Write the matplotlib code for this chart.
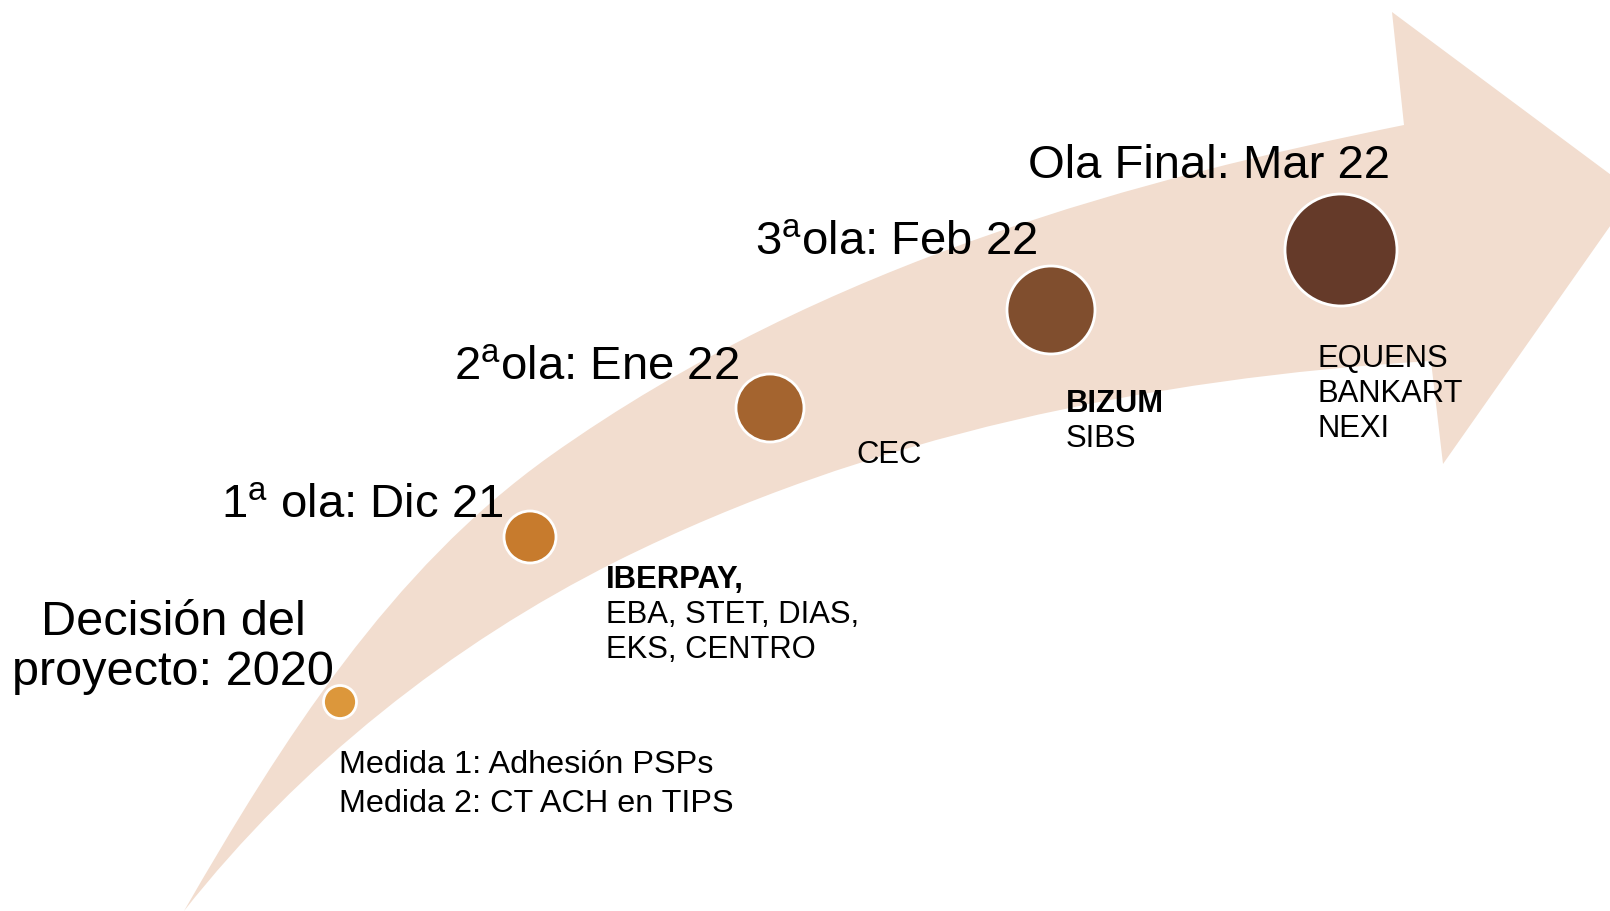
import matplotlib
matplotlib.use("Agg")
import matplotlib.pyplot as plt
from matplotlib.path import Path
from matplotlib.patches import PathPatch, Circle

plt.rcParams['font.family'] = ['Liberation Sans', 'DejaVu Sans']
plt.rcParams['mathtext.fontset'] = 'custom'
plt.rcParams['mathtext.rm'] = 'Liberation Sans'

# --- content ---
wave_titles = [
    ["Decisión del", "proyecto: 2020"],
    [r"1$^{\mathrm{a}}$ ola: Dic 21"],
    [r"2$^{\mathrm{a}}$ola: Ene 22"],
    [r"3$^{\mathrm{a}}$ola: Feb 22"],
    ["Ola Final: Mar 22"],
]
members = [
    ["Medida 1: Adhesión PSPs", "Medida 2: CT ACH en TIPS"],
    ["IBERPAY,", "EBA, STET, DIAS,", "EKS, CENTRO"],
    ["CEC"],
    ["BIZUM", "SIBS"],
    ["EQUENS", "BANKART", "NEXI"],
]
bold_first = [False, True, False, True, False]
dot_colors = ["#DC973B", "#C77B2D", "#A4642F", "#804E2E", "#653A29"]
band_color = "#F2DDCF"

# --- layout (pixel coords, y downwards) ---
dot_x = [340, 530, 770, 1051, 1341]
dot_y = [703, 538, 409, 311, 251]
dot_r = [16.5, 26, 34, 44, 56]

title_x = [173, 503, 454, 755, 1028]
title_y = [635, 518, 380, 255, 178]
title_ha = ["center", "right", "left", "left", "left"]
title_size = [35, 34, 34, 34, 34]
title_step = 50

member_x = [339, 606, 856, 1066, 1317]
member_y = [773, 588, 463, 412, 367]
member_step = [39, 35, 35, 35, 35]
member_size = [23.3, 22.3, 22.3, 22.3, 22.3]

fig = plt.figure(figsize=(16.1, 9.12), dpi=100)
ax = fig.add_axes([0, 0, 1, 1])
ax.set_xlim(0, 1610)
ax.set_ylim(912, 0)
ax.axis('off')

# curved arrow
verts = [
    (184, 912),
    (282, 742), (390, 571), (550, 457),
    (827, 260), (1149, 178), (1404, 126),
    (1392, 13),
    (1634, 193),
    (1443, 465),
    (1431, 362),
    (1150, 379), (868, 437), (617, 562),
    (451, 645), (299, 766), (184, 912),
    (184, 912),
]
codes = [Path.MOVETO,
         Path.CURVE4, Path.CURVE4, Path.CURVE4,
         Path.CURVE4, Path.CURVE4, Path.CURVE4,
         Path.LINETO, Path.LINETO, Path.LINETO, Path.LINETO,
         Path.CURVE4, Path.CURVE4, Path.CURVE4,
         Path.CURVE4, Path.CURVE4, Path.CURVE4,
         Path.CLOSEPOLY]
ax.add_patch(PathPatch(Path(verts, codes), facecolor=band_color, edgecolor='none', zorder=1))

for i in range(len(dot_x)):
    ax.add_patch(Circle((dot_x[i], dot_y[i]), dot_r[i], facecolor=dot_colors[i],
                        edgecolor='white', linewidth=2, zorder=3))
    for k, line in enumerate(wave_titles[i]):
        ax.text(title_x[i], title_y[i] + k * title_step, line, fontsize=title_size[i],
                ha=title_ha[i], va='baseline', color='black', zorder=4)
    for k, name in enumerate(members[i]):
        weight = 'bold' if (bold_first[i] and k == 0) else 'normal'
        ax.text(member_x[i], member_y[i] + k * member_step[i], name, fontsize=member_size[i],
                ha='left', va='baseline', fontweight=weight, color='black', zorder=4)

fig.savefig("out.png", dpi=100)
